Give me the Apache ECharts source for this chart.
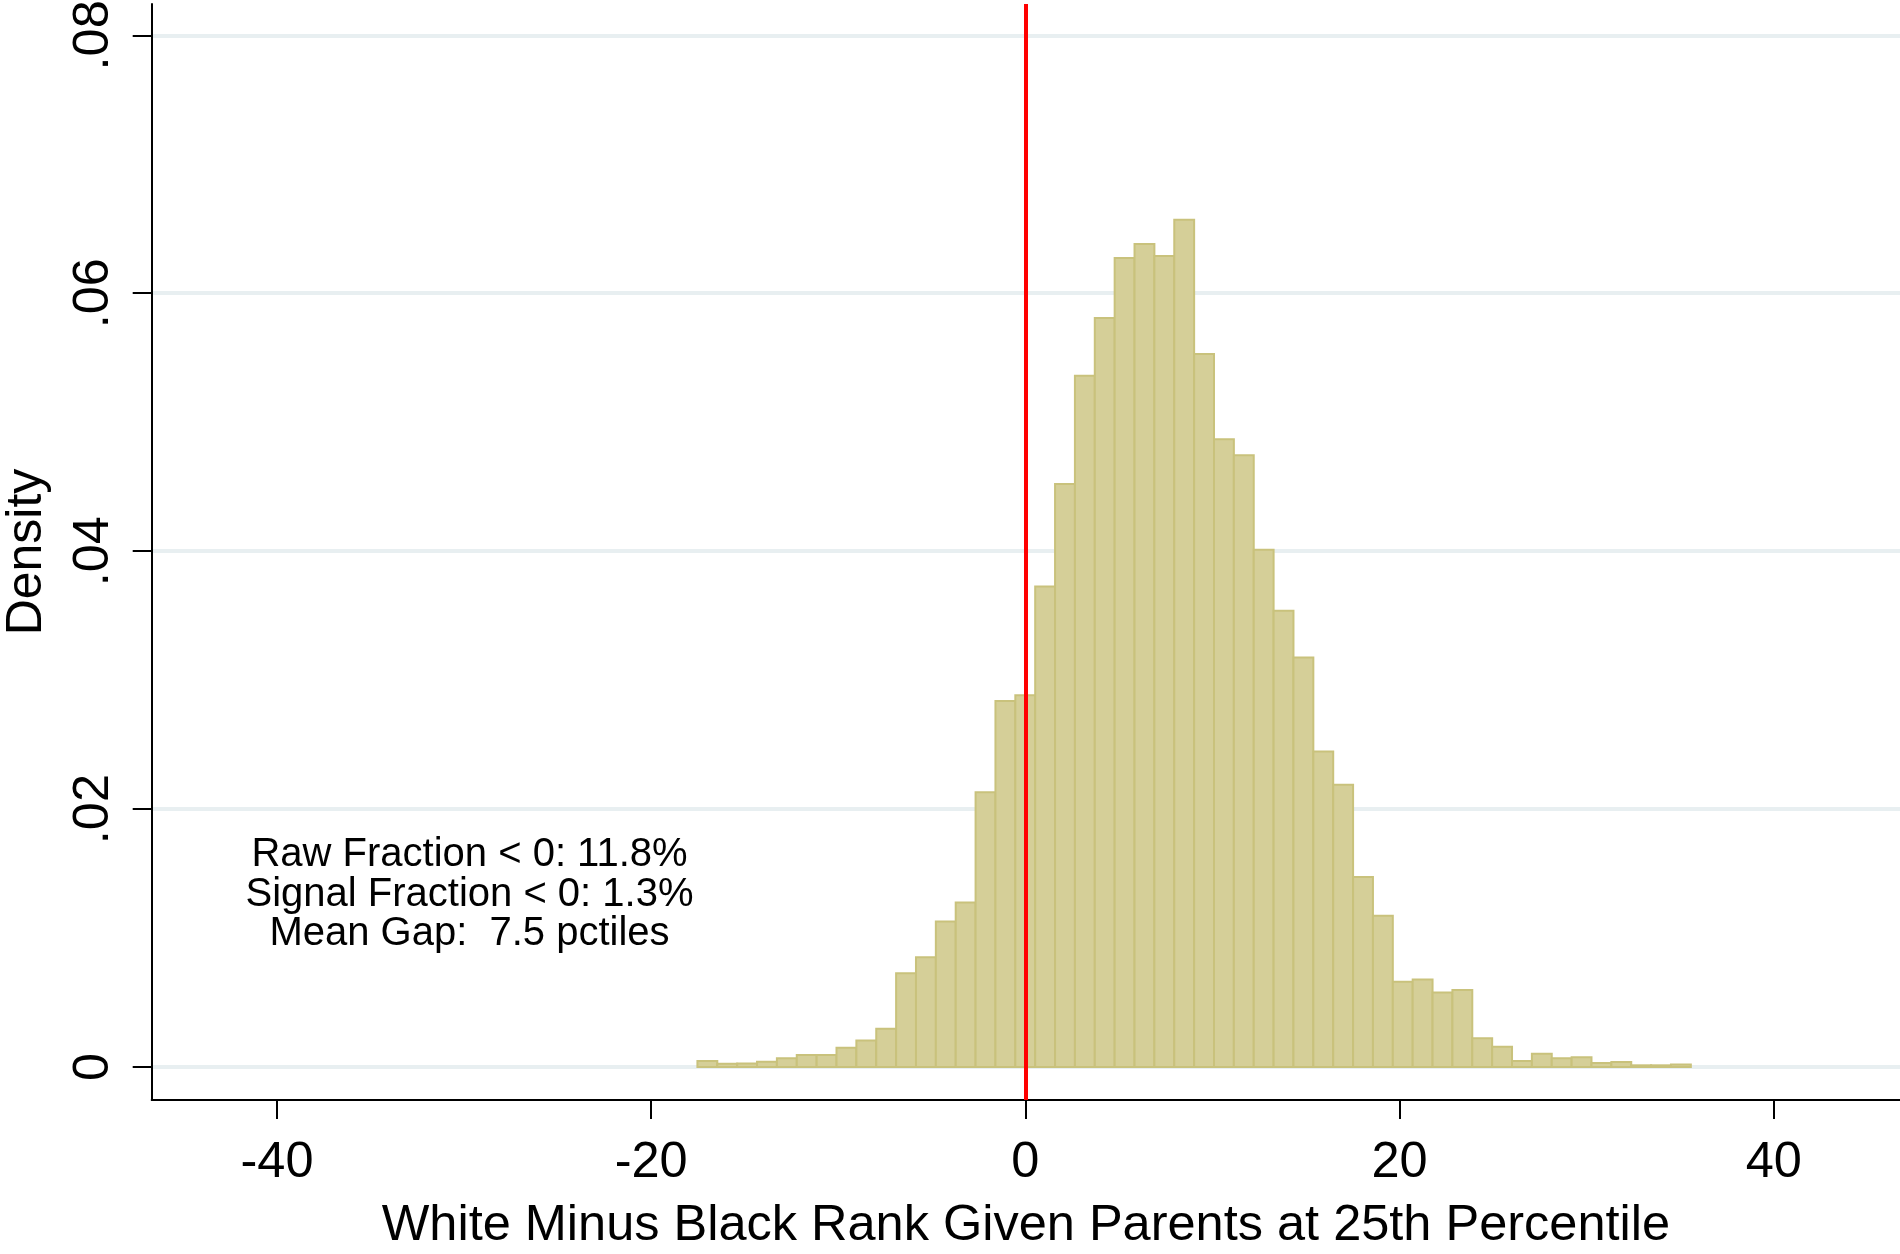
<!DOCTYPE html>
<html>
<head>
<meta charset="utf-8">
<script src="https://cdn.jsdelivr.net/npm/echarts@6/dist/echarts.min.js"></script>
<style>
html,body{margin:0;padding:0;background:#fff;}
#chart{width:1900px;height:1254px;}
</style>
</head>
<body>
<div id="chart"></div>
<script>
// Histogram bins (equal width)
var binStart = -17.53;
var binWidth = 1.062;
var density = [
  0.00046, 0.00026, 0.00028, 0.00041, 0.00067, 0.00093, 0.00093, 0.0015, 0.00206, 0.00297,
  0.00726, 0.0085, 0.01129, 0.01276, 0.02131, 0.02838, 0.02883, 0.03725, 0.04521, 0.05361,
  0.05808, 0.06273, 0.06382, 0.06289, 0.06569, 0.05529, 0.04868, 0.04744, 0.0401, 0.03537,
  0.03175, 0.02447, 0.02188, 0.01473, 0.01172, 0.00661, 0.00679, 0.00577, 0.00597, 0.00223,
  0.00157, 0.00046, 0.00103, 0.00067, 0.00075, 0.00031, 0.00039, 0.00013, 0.00013, 0.0002
];
var xTickValues = [-40, -20, 0, 20, 40];
var xTickLabels = ['-40', '-20', '0', '20', '40'];
var yTickValues = [0, 0.02, 0.04, 0.06, 0.08];
var yTickLabels = ['0', '.02', '.04', '.06', '.08'];
var refLineX = 0;
var annotationLines = ['Raw Fraction < 0: 11.8%', 'Signal Fraction < 0: 1.3%', 'Mean Gap:  7.5 pctiles'];
var xTitle = 'White Minus Black Rank Given Parents at 25th Percentile';
var yTitle = 'Density';

var FONT = "'Liberation Sans', Arial, Helvetica, sans-serif";

var barData = density.map(function (d, i) {
  return [binStart + i * binWidth, binStart + (i + 1) * binWidth, d];
});

function labelFor(values, labels) {
  return function (v) {
    for (var i = 0; i < values.length; i++) {
      if (Math.abs(values[i] - v) < 1e-9) return labels[i];
    }
    return '';
  };
}

var chart = echarts.init(document.getElementById('chart'), null, {renderer: 'canvas'});
var option = {
  animation: false,
  backgroundColor: '#ffffff',
  grid: {left: 151.7, right: 0, top: 4, bottom: 154, containLabel: false, outerBoundsMode: 'none'},
  xAxis: {
    type: 'value',
    min: -46.7,
    max: 46.75,
    name: xTitle,
    nameLocation: 'middle',
    nameGap: 100.7,
    nameTextStyle: {fontFamily: FONT, fontSize: 50.5, color: '#000'},
    axisLine: {show: true, onZero: false, lineStyle: {color: '#000', width: 2}},
    axisTick: {show: true, length: 19, lineStyle: {color: '#000', width: 2}, customValues: xTickValues},
    axisLabel: {
      show: true, margin: 37.7, fontFamily: FONT, fontSize: 50.5, color: '#000',
      customValues: xTickValues, formatter: labelFor(xTickValues, xTickLabels)
    },
    splitLine: {show: false}
  },
  yAxis: {
    type: 'value',
    min: -0.00256,
    max: 0.08243,
    name: yTitle,
    nameLocation: 'middle',
    nameGap: 99,
    nameTextStyle: {fontFamily: FONT, fontSize: 50, color: '#000'},
    axisLine: {show: true, onZero: false, lineStyle: {color: '#000', width: 2}},
    axisTick: {show: true, length: 19, lineStyle: {color: '#000', width: 2}, customValues: yTickValues},
    axisLabel: {
      show: true, rotate: 90, margin: 32.3, fontFamily: FONT, fontSize: 50.5, color: '#000',
      customValues: yTickValues, formatter: labelFor(yTickValues, yTickLabels)
    },
    splitLine: {show: true, lineStyle: {color: '#e8eff1', width: 4}}
  },
  series: [{
    type: 'custom',
    data: barData,
    encode: {x: [0, 1], y: 2},
    renderItem: function (params, api) {
      var p0 = api.coord([api.value(0), api.value(2)]);
      var p1 = api.coord([api.value(1), 0]);
      return {
        type: 'rect',
        shape: {x: p0[0], y: p0[1], width: p1[0] - p0[0], height: p1[1] - p0[1]},
        style: {fill: '#d5cf98', stroke: '#c9c27c', lineWidth: 2}
      };
    },
    z: 2,
    markLine: {
      silent: true,
      symbol: 'none',
      label: {show: false},
      lineStyle: {color: '#ff0000', width: 4, type: 'solid'},
      data: [{xAxis: refLineX}],
      z: 5
    }
  }],
  graphic: [{
    type: 'text',
    x: 469.5,
    y: 894.5,
    z: 10,
    style: {
      text: annotationLines.join('\n'),
      fontFamily: FONT,
      fontSize: 40,
      lineHeight: 39.5,
      fill: '#000',
      textAlign: 'center',
      textVerticalAlign: 'middle'
    }
  }]
};
chart.setOption(option);
</script>
</body>
</html>
